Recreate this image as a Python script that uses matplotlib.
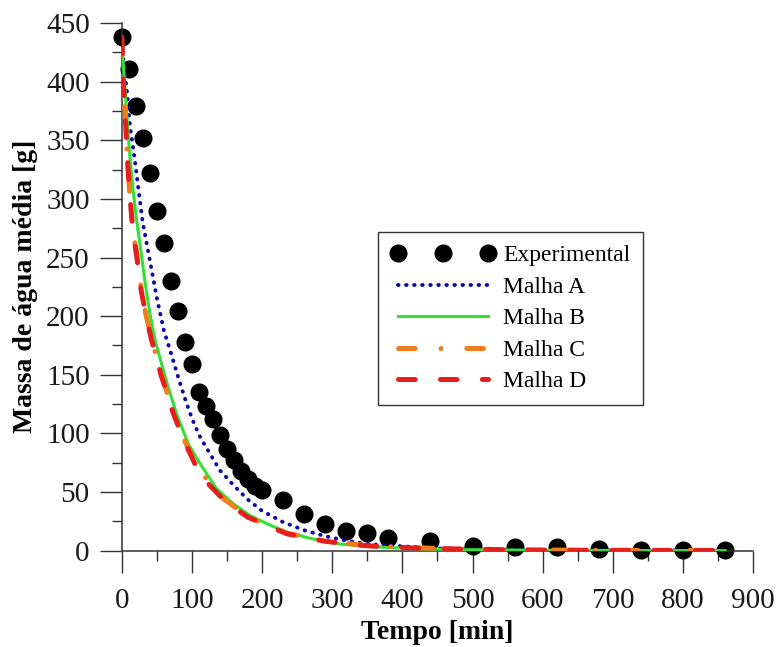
import numpy as np
import matplotlib
matplotlib.use('Agg')
import matplotlib.pyplot as plt

plt.rcParams['font.family'] = ['Liberation Serif', 'DejaVu Serif']
plt.rcParams['lines.scale_dashes'] = False

# pontos experimentais
tempo_exp = [0, 10, 20, 30, 40, 50, 60, 70, 80, 90, 100, 110, 120, 130, 140, 150,
             160, 170, 180, 190, 200, 230, 260, 290, 320, 350, 380,
             440, 500, 560, 620, 680, 740, 800, 860]
massa_exp = [438, 411, 379, 352, 322, 290, 262, 230, 204, 178, 159, 135, 123, 112, 99, 87,
             77, 68, 61, 55, 52, 43, 31, 23, 17, 15, 11,
             8, 4.3, 3.4, 3.4, 1.5, 0.8, 0.8, 0.8]

# malha A
tempo_A = [0, 4, 8, 12, 16, 20, 25, 30, 35, 40, 45, 50, 60, 70, 80, 90, 100, 110, 120,
           140, 160, 180, 200, 230, 260, 290, 320, 350, 400, 450, 500, 600, 700, 860]
malha_A = [433, 410, 389, 361, 345, 327, 303, 280, 264, 248, 232, 216, 188, 169, 149, 130, 113, 99, 88.5,
           68.5, 55.5, 43.5, 34, 24.4, 17.5, 12.4, 8.6, 5.7, 3.8, 2, 1.2, 0.6, 0.3, 0.2]

# malha B
tempo_B = [0, 4, 8, 12, 16, 21, 28, 33, 40, 47, 57, 67, 78, 95, 112, 135, 159, 183, 207,
           235, 268, 311, 358, 420, 500, 600, 700, 860]
malha_B = [435, 400, 366, 334, 309, 283, 253, 230, 203, 181, 159, 138, 117, 91, 74, 53, 40, 30, 23,
           16, 10.6, 5.7, 3.4, 1.7, 0.8, 0.4, 0.2, 0.1]

# malha C
tempo_C = [0, 2, 5, 8, 12, 16, 21, 28, 35, 42, 50, 57, 65, 73, 88, 104, 125, 147, 180,
           235, 290, 350, 415, 500, 600, 700, 860]
malha_C = [437, 404, 371, 336, 301, 274, 254, 222, 200, 183, 164, 150, 134, 119, 96, 76, 57.5, 43.5, 29,
           15, 8.2, 4.3, 2.5, 1.3, 0.6, 0.3, 0.2]

# malha D
tempo_D = [0, 2, 5, 8, 12, 16, 21, 28, 35, 42, 50, 57, 65, 73, 88, 104, 125, 147, 180,
           235, 290, 350, 415, 500, 600, 700, 860]
malha_D = [438, 405, 372, 335, 300, 273, 253, 221, 200, 181, 163, 148, 134, 118, 95, 74.5, 56, 42.5, 28.5,
           14.5, 8, 4.2, 2.4, 1.2, 0.6, 0.3, 0.2]

fig = plt.figure(figsize=(7.77, 6.47), dpi=100)
ax = fig.add_axes([0.1566, 0.1488, 0.8129, 0.8157])

ax.plot(tempo_exp, massa_exp, 'o', color='black', markersize=12, label='Experimental', clip_on=False, zorder=2)
ax.plot(tempo_A, malha_A, color='#0a0aa8', lw=2.8, linestyle=(0, (0.4, 5.4)),
        dash_capstyle='round', label='Malha A', zorder=3)
ax.plot(tempo_B, malha_B, color='#33e033', lw=2.2, label='Malha B', zorder=3)
ax.plot(tempo_C, malha_C, color='#f07d1e', lw=3.6, linestyle=(0, (12, 18.6, 0.01, 18.6)),
        dash_capstyle='round', label='Malha C', zorder=3)
ax.plot(tempo_D, malha_D, color='#e61e1e', lw=3.6, linestyle=(0, (12, 18.2)),
        dash_capstyle='round', label='Malha D', zorder=3)

ax.set_xlim(0, 900)
ax.set_ylim(0, 450)
ax.set_xticks(np.arange(0, 901, 100))
ax.set_xticks(np.arange(50, 900, 100), minor=True)
ax.set_yticks(np.arange(0, 451, 50))
ax.set_yticks(np.arange(25, 450, 50), minor=True)
ax.tick_params(which='major', length=16, width=1, color='#333333', direction='out',
               labelsize=21, labelcolor='#1a1a1a')
ax.tick_params(axis='x', which='major', pad=11)
ax.tick_params(axis='y', which='major', pad=7)
ax.tick_params(which='minor', length=7.5, width=1, color='#333333', direction='out')
for s in ['top', 'right']:
    ax.spines[s].set_visible(False)
for s in ['left', 'bottom']:
    ax.spines[s].set_color('#333333')
    ax.spines[s].set_linewidth(1.1)

ax.set_xlabel('Tempo [min]', fontsize=20, fontweight='bold', labelpad=4)
ax.set_ylabel('Massa de água média [g]', fontsize=20, fontweight='bold', labelpad=6)

leg = ax.legend(loc='upper left', bbox_to_anchor=(0.406, 0.604), borderaxespad=0, fontsize=17,
                numpoints=3, handlelength=4.4, handletextpad=0.35, fancybox=False,
                edgecolor='#333333', framealpha=1, labelspacing=0.42, borderpad=0.55)
leg.get_frame().set_linewidth(1.0)

plt.savefig('out.png', dpi=100)
